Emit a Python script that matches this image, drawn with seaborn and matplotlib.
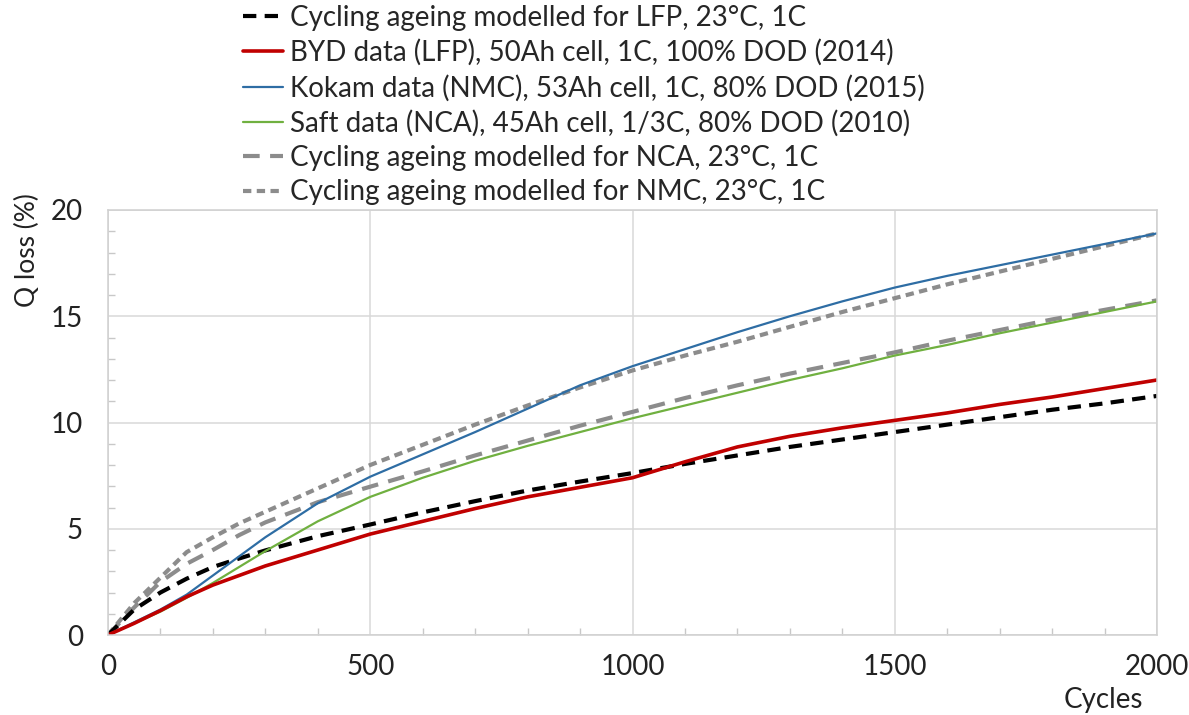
import matplotlib
matplotlib.use("Agg")
import matplotlib.pyplot as plt
import seaborn as sns
import pandas as pd
from matplotlib.ticker import MultipleLocator

cycles = [0, 50, 100, 150, 200, 250, 300, 400, 500, 600, 700, 800, 900, 1000,
          1100, 1200, 1300, 1400, 1500, 1600, 1700, 1800, 1900, 2000]

lfp_model = [0, 1.2, 2.0, 2.65, 3.2, 3.6, 3.98, 4.65, 5.2, 5.77, 6.3, 6.8, 7.22, 7.62,
             8.05, 8.45, 8.85, 9.2, 9.55, 9.9, 10.25, 10.6, 10.9, 11.25]
byd_data = [0, 0.55, 1.15, 1.8, 2.35, 2.8, 3.25, 4.0, 4.75, 5.35, 5.95, 6.5, 6.95, 7.4,
            8.15, 8.85, 9.35, 9.75, 10.1, 10.45, 10.85, 11.2, 11.6, 12.0]
kokam_data = [0, 0.6, 1.2, 1.9, 2.8, 3.7, 4.6, 6.2, 7.45, 8.5, 9.55, 10.65, 11.75, 12.65,
              13.45, 14.25, 15.0, 15.7, 16.35, 16.9, 17.4, 17.9, 18.4, 18.9]
saft_data = [0, 0.55, 1.1, 1.75, 2.45, 3.2, 3.95, 5.35, 6.5, 7.4, 8.2, 8.9, 9.55, 10.2,
             10.8, 11.4, 12.0, 12.55, 13.15, 13.65, 14.2, 14.7, 15.2, 15.7]
nca_model = [0, 1.3, 2.5, 3.35, 4.0, 4.7, 5.3, 6.25, 6.98, 7.7, 8.45, 9.15, 9.85, 10.5,
             11.15, 11.75, 12.3, 12.8, 13.3, 13.85, 14.35, 14.85, 15.3, 15.75]
nmc_model = [0, 1.5, 2.7, 3.9, 4.6, 5.25, 5.8, 6.9, 8.0, 8.95, 9.9, 10.8, 11.65, 12.45,
             13.15, 13.8, 14.5, 15.2, 15.85, 16.5, 17.1, 17.7, 18.3, 18.9]

labels = [
    "Cycling ageing modelled for LFP, 23°C, 1C",
    "BYD data (LFP), 50Ah cell, 1C, 100% DOD (2014)",
    "Kokam data (NMC), 53Ah cell, 1C, 80% DOD (2015)",
    "Saft data (NCA), 45Ah cell, 1/3C, 80% DOD (2010)",
    "Cycling ageing modelled for NCA, 23°C, 1C",
    "Cycling ageing modelled for NMC, 23°C, 1C",
]
x_ticks = [0, 500, 1000, 1500, 2000]
y_ticks = [0, 5, 10, 15, 20]

series = [lfp_model, byd_data, kokam_data, saft_data, nca_model, nmc_model]
styles = [
    dict(color="black", lw=3.0, dashes=(3.2, 2.0)),
    dict(color="#C00000", lw=2.6, dashes=None),
    dict(color="#2E6DA4", lw=1.6, dashes=None),
    dict(color="#70B040", lw=1.6, dashes=None),
    dict(color="#8C8C8C", lw=3.0, dashes=(4.0, 2.5)),
    dict(color="#8C8C8C", lw=3.0, dashes=(2.0, 1.3)),
]

sns.set_theme(style="white")
plt.rcParams['font.family'] = ['Lato', 'DejaVu Sans']

fig = plt.figure(figsize=(11.89, 7.15), dpi=100)
ax = fig.add_axes([108/1189, 80/715, (1157-108)/1189, (635-210)/715])

draw_order = [4, 5, 0, 3, 2, 1]
handles = {}
for i in draw_order:
    df = pd.DataFrame({"Cycles": cycles, "Q": series[i]})
    st = styles[i]
    sns.lineplot(data=df, x="Cycles", y="Q", ax=ax, color=st["color"],
                 linewidth=st["lw"], label=labels[i])
    line = ax.get_lines()[-1]
    if st["dashes"] is not None:
        line.set_dashes(st["dashes"])
    handles[i] = line

ax.set_xlim(0, 2000)
ax.set_ylim(0, 20)
ax.set_xticks(x_ticks)
ax.set_yticks(y_ticks)
ax.xaxis.set_minor_locator(MultipleLocator(100))
ax.yaxis.set_minor_locator(MultipleLocator(1))
ax.grid(True, which="major", color="#D9D9D9", linewidth=1.1)
for s in ax.spines.values():
    s.set_color("#D0D0D0")
    s.set_linewidth(1.1)
ax.tick_params(axis="both", which="major", length=0, labelsize=20,
               labelcolor="#222222", pad=18)
ax.tick_params(axis="x", which="major", pad=14)
ax.tick_params(axis="both", which="minor", direction="in", length=5,
               color="#C8C8C8", width=1, bottom=True, left=True)
ax.set_xlabel("")
ax.set_ylabel("")
if ax.get_legend() is not None:
    ax.get_legend().remove()

fig.text(1143/1189, 1 - 700/715, "Cycles", ha="right", va="center",
         fontsize=20, color="#222222")
fig.text(27/1189, 1 - 250/715, "Q loss (%)", ha="center", va="center",
         rotation=90, fontsize=19, color="#222222")

fig.legend([handles[i] for i in range(6)], labels, loc="upper left",
           bbox_to_anchor=(243/1189, 1 - 5/715), frameon=False, fontsize=20,
           handlelength=1.45, handletextpad=0.25, labelspacing=0.3,
           borderaxespad=0, borderpad=0)

fig.savefig("out.png", dpi=100)
